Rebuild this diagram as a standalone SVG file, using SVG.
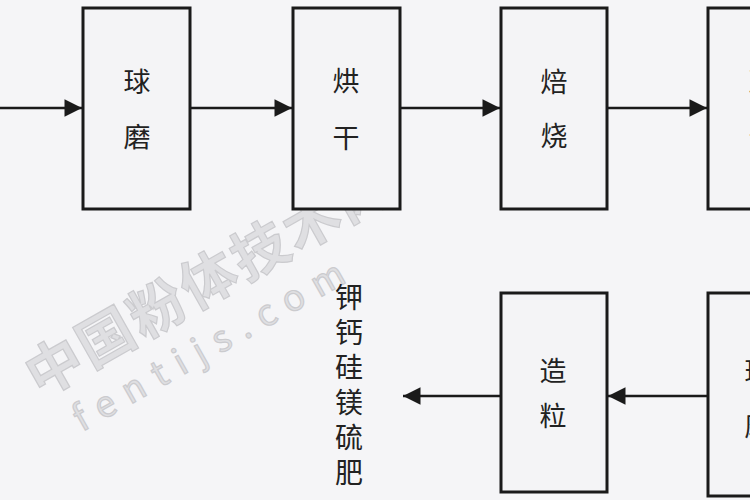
<svg xmlns="http://www.w3.org/2000/svg" width="750" height="500" viewBox="0 0 750 500">
<defs>
<style>
.box{fill:#f4f4f6;stroke:#1a1a1a;stroke-width:3}
.lbl{font-family:"Noto Sans CJK SC","Noto Sans",sans-serif;font-size:27px;fill:#222;text-anchor:middle;dominant-baseline:central}
.vt{font-family:"Noto Sans CJK SC","Noto Sans",sans-serif;font-size:28px;fill:#222;writing-mode:vertical-rl;letter-spacing:7px}
.edge{stroke:#1a1a1a;stroke-width:2.5;fill:none}
.wm{font-family:"Noto Sans CJK SC","DejaVu Sans",sans-serif;fill:#dcdcdf;stroke:#c4c4c8;stroke-width:1.2}
</style>
<marker id="ah" viewBox="0 0 10 10" refX="10" refY="5" markerWidth="7.5" markerHeight="7" markerUnits="strokeWidth" orient="auto">
<path d="M0,0 L10,5 L0,10 Z" fill="#1a1a1a"/>
</marker>
</defs>
<rect width="750" height="500" fill="#f5f5f7"/>
<g id="watermark" opacity="0.85">
<text class="wm" font-size="56" font-weight="bold" transform="translate(40,398) rotate(-29.5)" letter-spacing="3">中国粉体技术网</text>
<text class="wm" font-size="36" transform="translate(82,432) rotate(-29.5)" letter-spacing="12">fentijs.com</text>
</g>
<g id="connectors">
<line class="edge" x1="0" y1="108" x2="82" y2="108" marker-end="url(#ah)"/>
<line class="edge" x1="190" y1="108" x2="292" y2="108" marker-end="url(#ah)"/>
<line class="edge" x1="400" y1="108" x2="500" y2="108" marker-end="url(#ah)"/>
<line class="edge" x1="607" y1="108" x2="707" y2="108" marker-end="url(#ah)"/>
<line class="edge" x1="708" y1="396" x2="608" y2="396" marker-end="url(#ah)"/>
<line class="edge" x1="501" y1="396" x2="403" y2="396" marker-end="url(#ah)"/>
</g>
<g id="n1"><rect class="box" x="83" y="8" width="107" height="201"/><text class="lbl" x="137" y="80">球</text><text class="lbl" x="137" y="135">磨</text></g>
<g id="n2"><rect class="box" x="293" y="8" width="107" height="201"/><text class="lbl" x="346" y="79">烘</text><text class="lbl" x="346" y="136">干</text></g>
<g id="n3"><rect class="box" x="501" y="8" width="106" height="201"/><text class="lbl" x="554" y="80">焙</text><text class="lbl" x="554" y="134">烧</text></g>
<g id="n4"><rect class="box" x="708" y="8" width="110" height="201"/><text class="lbl" x="762" y="80">冷</text><text class="lbl" x="762" y="134">却</text></g>
<g id="n5"><rect class="box" x="708" y="293" width="110" height="203"/><text class="lbl" x="758" y="370">球</text><text class="lbl" x="758" y="424">磨</text></g>
<g id="n6"><rect class="box" x="501" y="293" width="106" height="199"/><text class="lbl" x="553" y="369">造</text><text class="lbl" x="553" y="414">粒</text></g>
<g id="n7">
<text class="vt" x="349" y="283">钾钙硅镁硫肥</text>
</g>
</svg>
